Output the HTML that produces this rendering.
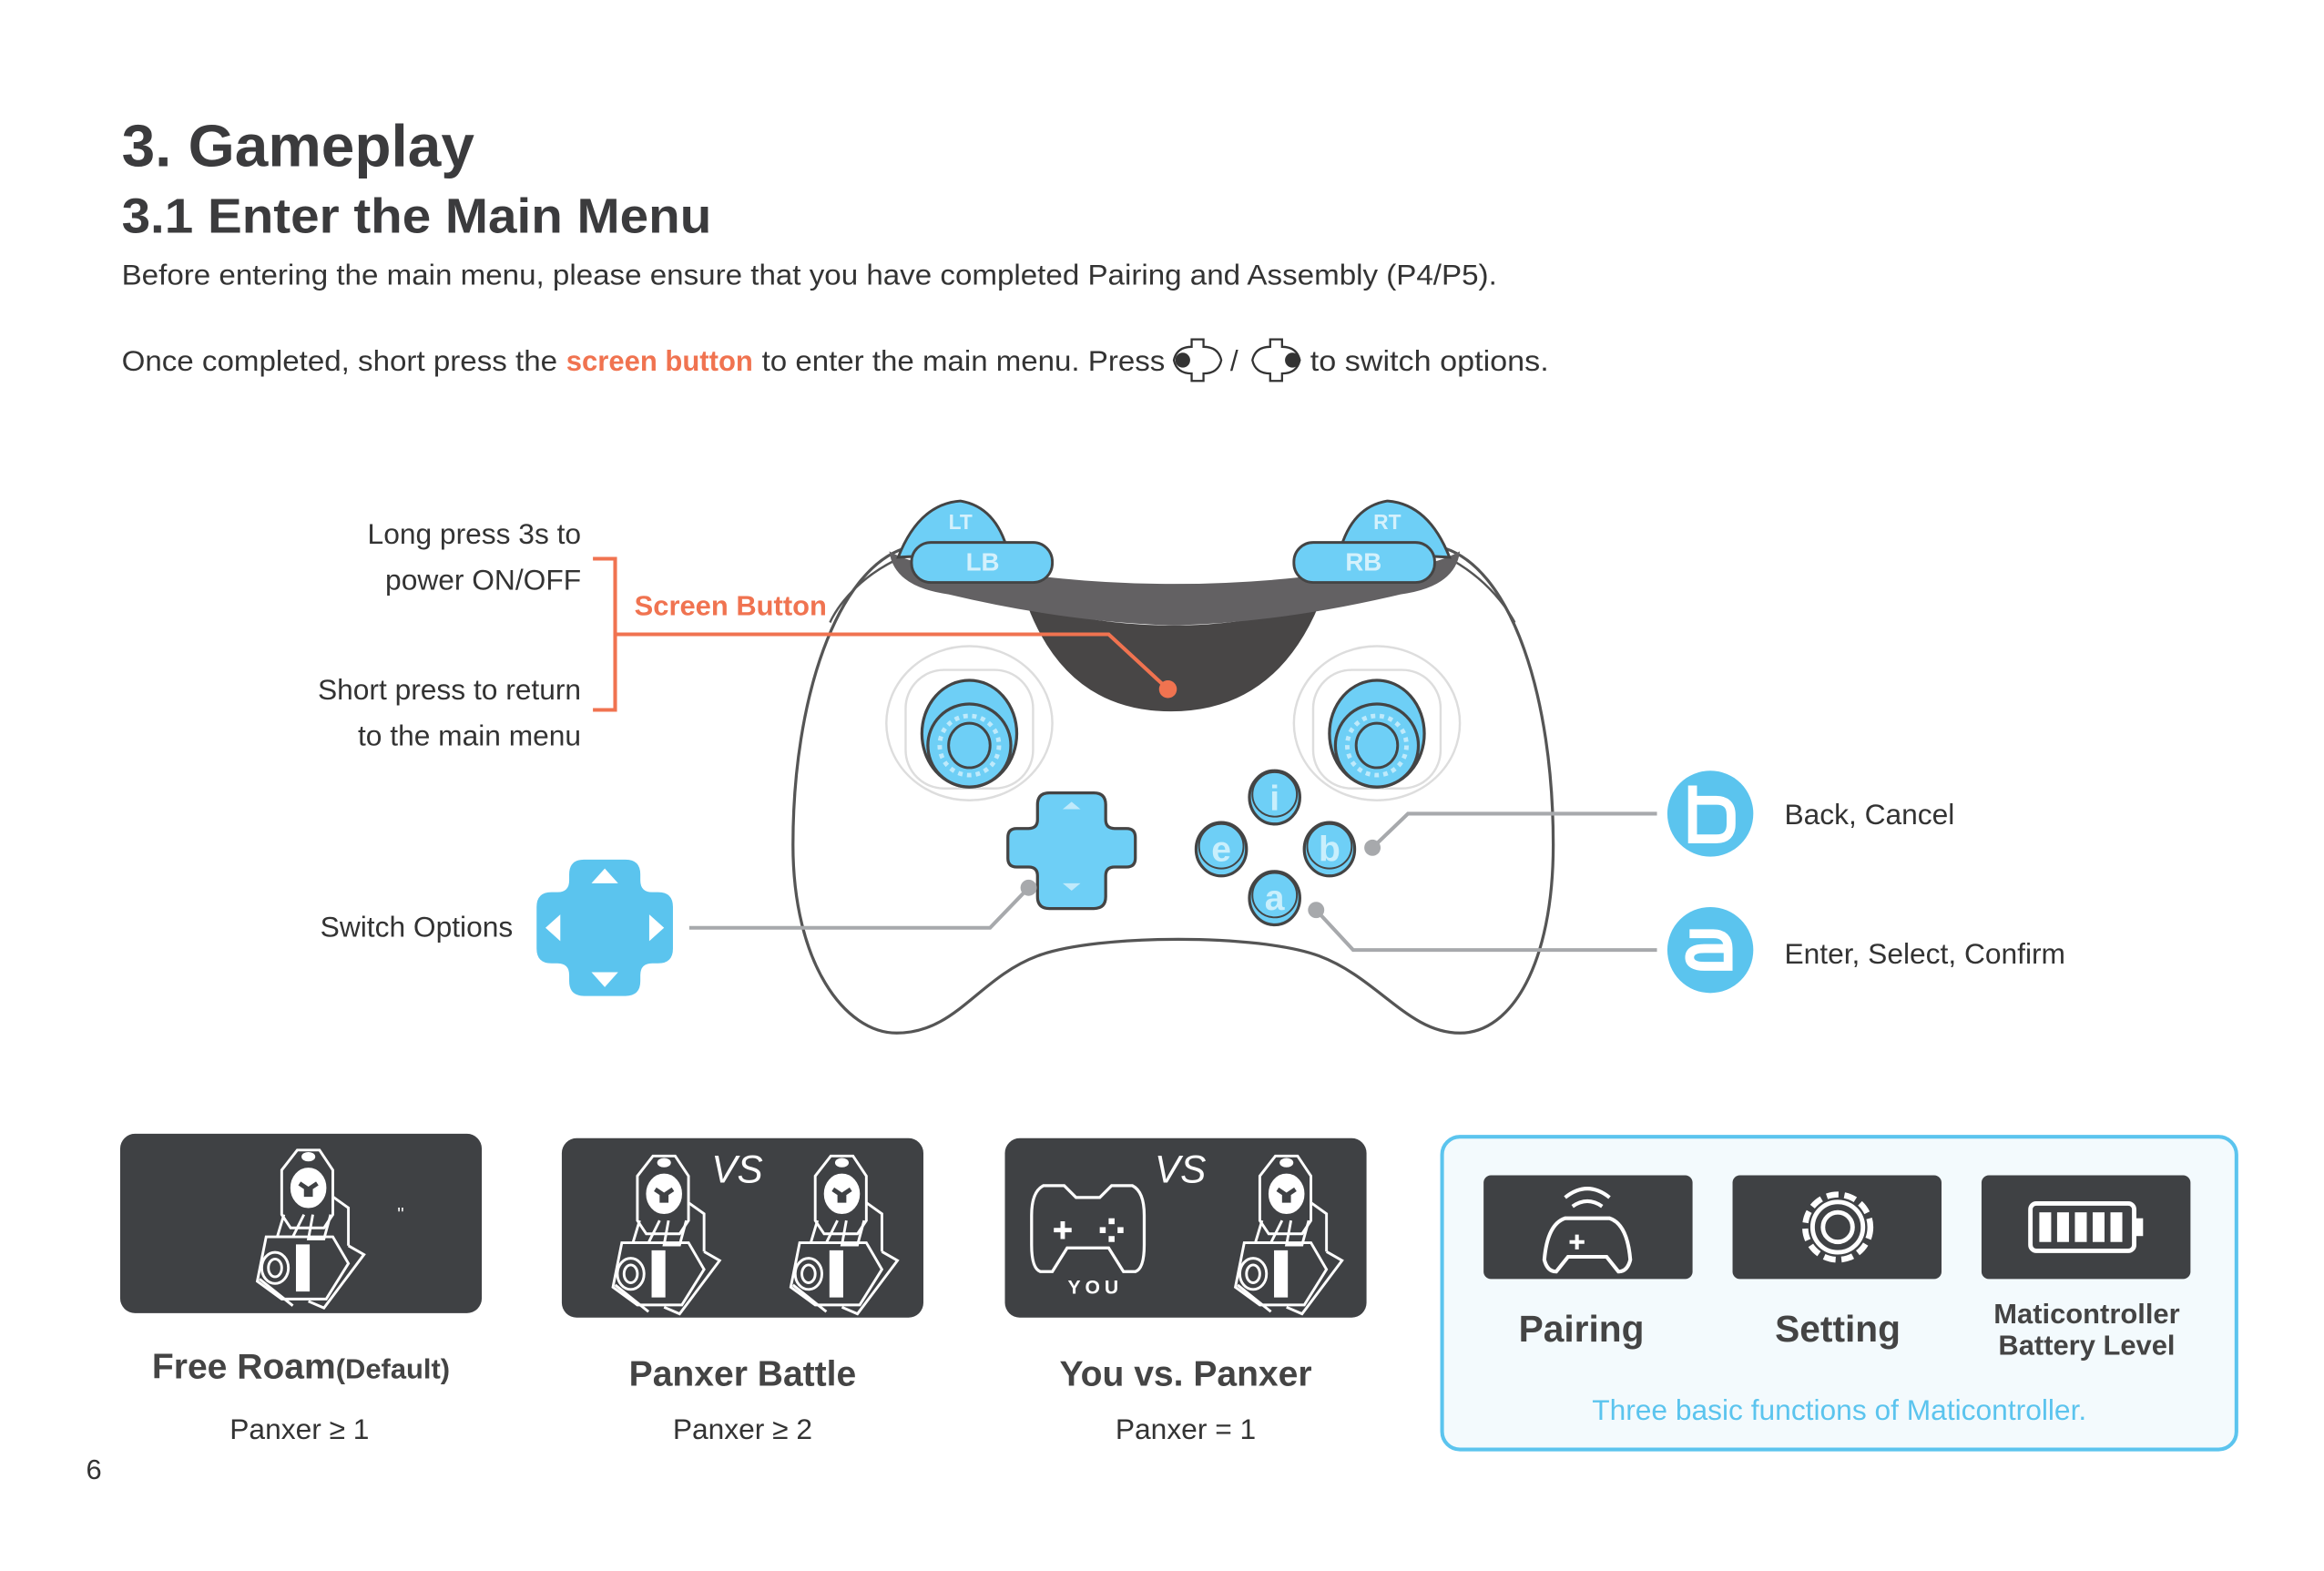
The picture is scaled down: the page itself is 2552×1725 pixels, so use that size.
<!DOCTYPE html>
<html><head><meta charset="utf-8"><style>
html,body{margin:0;padding:0;background:#fff;}
svg{display:block;}
text{font-family:"Liberation Sans",sans-serif;}
</style></head><body>
<svg width="2552" height="1725" viewBox="0 0 1568 1060" xmlns="http://www.w3.org/2000/svg">
<defs>
<g id="robot" fill="none" stroke="#fff" stroke-width="2.4">
  <path d="M-10,-56 h20 l12,18 v40 l-8,12 h-30 l-8,-12 v-40 z"/>
  <ellipse cx="0" cy="-50" rx="5" ry="3" fill="#fff"/>
  <ellipse cx="0" cy="-22" rx="15" ry="17" fill="#fff"/>
  <path d="M-8,-26 l6,4 v8 M8,-26 l-6,4 v8" stroke="#3f4144" stroke-width="4"/>
  <path d="M-22,2 l-6,20 h14 l10,-20 M4,2 l-4,22 h14 l6,-22 M22,-14 l14,10 v34"/>
  <path d="M-38,22 h60 l14,24 l-20,32 h-40 l-22,-16 z"/>
  <ellipse cx="-30" cy="50" rx="12" ry="14"/>
  <ellipse cx="-30" cy="50" rx="6" ry="8"/>
  <path d="M-10,30 v40 h10 v-40 z" fill="#fff"/>
  <path d="M36,30 l14,8 l-36,48 l-14,-6 M-44,60 l30,24"/>
</g>
<g id="btn">
  <ellipse cx="0" cy="2" rx="17" ry="18" fill="#6ecff6" stroke="#444" stroke-width="2"/>
  <ellipse cx="0" cy="0" rx="15" ry="15" fill="#6ecff6" stroke="#444" stroke-width="1.2"/>
</g>
</defs>

<!-- Header -->
<text x="82" y="112" font-size="40" font-weight="bold" fill="#3b3b3d" textLength="238" lengthAdjust="spacingAndGlyphs">3. Gameplay</text>
<text x="82" y="157" font-size="33" font-weight="bold" fill="#3b3b3d" textLength="398" lengthAdjust="spacingAndGlyphs">3.1 Enter the Main Menu</text>
<text x="82" y="192" font-size="19.5" fill="#333" textLength="928" lengthAdjust="spacingAndGlyphs">Before entering the main menu, please ensure that you have completed Pairing and Assembly (P4/P5).</text>
<text x="82" y="250" font-size="19.5" fill="#333" textLength="294" lengthAdjust="spacingAndGlyphs">Once completed, short press the</text>
<text x="382" y="250" font-size="19.5" font-weight="bold" fill="#f07350" textLength="126" lengthAdjust="spacingAndGlyphs">screen button</text>
<text x="514" y="250" font-size="19.5" fill="#333" textLength="272" lengthAdjust="spacingAndGlyphs">to enter the main menu. Press</text>
<g fill="none" stroke="#333" stroke-width="1.4">
  <path d="M804,229 h8 v5 q10,0 12,9 q-2,9 -12,9 v5 h-8 v-5 q-10,0 -12,-9 q2,-9 12,-9 z"/>
  <path d="M857,229 h8 v5 q10,0 12,9 q-2,9 -12,9 v5 h-8 v-5 q-10,0 -12,-9 q2,-9 12,-9 z"/>
</g>
<circle cx="798" cy="243" r="5" fill="#333"/>
<circle cx="872" cy="243" r="5" fill="#333"/>
<text x="830" y="250" font-size="19.5" fill="#333">/</text>
<text x="884" y="250" font-size="19.5" fill="#333" textLength="161" lengthAdjust="spacingAndGlyphs">to switch options.</text>

<!-- Left labels -->
<g font-size="19.5" fill="#333" text-anchor="end">
<text x="392" y="367">Long press 3s to</text>
<text x="392" y="398">power ON/OFF</text>
<text x="392" y="472">Short press to return</text>
<text x="392" y="503">to the main menu</text>
<text x="346" y="632">Switch Options</text>
</g>
<path d="M400,377 h15 v102 h-15" fill="none" stroke="#f07350" stroke-width="2.5"/>
<text x="428" y="415" font-size="19" font-weight="bold" fill="#f07350">Screen Button</text>

<!-- Controller body -->
<path d="M610,370 C565,385 535,470 535,570 C535,650 570,697 605,697 C645,697 660,660 700,645 C740,630 850,630 890,645 C930,660 950,697 985,697 C1020,697 1048,650 1048,570 C1048,470 1020,385 975,370" fill="#fff" stroke="#555" stroke-width="2"/>
<path d="M604,378 C570,395 560,420 560,420 M980,378 C1010,395 1022,420 1022,420" fill="none" stroke="#555" stroke-width="1.5"/>
<path d="M693,408 Q720,480 790,480 Q860,480 890,408 Q840,422 792,422 Q740,422 693,408 Z" fill="#484646"/>
<path d="M600,372 Q603,396 640,401 Q720,420 792,422 Q865,420 945,401 Q982,396 985,372 Q960,386 905,386 Q850,394 792,394 Q735,394 680,386 Q625,386 600,372 Z" fill="#636163"/>
<path d="M606,376 Q620,340 648,338 Q672,342 680,372 Z" fill="#6ecff6" stroke="#444" stroke-width="1.8"/>
<path d="M978,376 Q964,340 936,338 Q912,342 904,372 Z" fill="#6ecff6" stroke="#444" stroke-width="1.8"/>
<text x="648" y="357" font-size="14" font-weight="bold" fill="#d4f1fc" text-anchor="middle">LT</text>
<text x="936" y="357" font-size="14" font-weight="bold" fill="#d4f1fc" text-anchor="middle">RT</text>
<rect x="615" y="366" width="95" height="27" rx="13" fill="#6ecff6" stroke="#444" stroke-width="1.8"/>
<rect x="873" y="366" width="95" height="27" rx="13" fill="#6ecff6" stroke="#444" stroke-width="1.8"/>
<text x="663" y="385" font-size="17" font-weight="bold" fill="#d4f1fc" text-anchor="middle">LB</text>
<text x="920" y="385" font-size="17" font-weight="bold" fill="#d4f1fc" text-anchor="middle">RB</text>
<path d="M415,428 H748 L788,465" fill="none" stroke="#f07350" stroke-width="2.5"/>
<circle cx="788" cy="465" r="6" fill="#f07350"/>

<g id="stk">
<ellipse cx="654" cy="488" rx="56" ry="52" fill="none" stroke="#ddd" stroke-width="1.5"/>
<rect x="611" y="452" width="86" height="80" rx="26" fill="none" stroke="#ddd" stroke-width="1.5"/>
<ellipse cx="654" cy="495" rx="32" ry="36" fill="#6ecff6" stroke="#444" stroke-width="2"/>
<ellipse cx="654" cy="503" rx="28" ry="28" fill="#6ecff6" stroke="#444" stroke-width="2"/>
<circle cx="654" cy="503" r="20" fill="none" stroke="#bfeafb" stroke-width="3" stroke-dasharray="3 3"/>
<ellipse cx="654" cy="503" rx="14" ry="15" fill="#6ecff6" stroke="#444" stroke-width="1.8"/>
</g>
<use href="#stk" x="275" y="0"/>

<path d="M708,533 h30 q8,0 8,8 v10 q0,6 6,6 h8 q6,0 6,6 v14 q0,6 -6,6 h-8 q-6,0 -6,6 v14 q0,8 -8,8 h-30 q-8,0 -8,-8 v-14 q0,-6 -6,-6 h-8 q-6,0 -6,-6 v-14 q0,-6 6,-6 h8 q6,0 6,-6 v-10 q0,-8 8,-8 z" fill="#6ecff6" stroke="#444" stroke-width="2" transform="translate(0,2)"/>
<g fill="#bfeafb"><path d="M717,546 h12 l-6,-5 z"/><path d="M717,596 h12 l-6,5 z"/></g>

<use href="#btn" x="860" y="536"/>
<use href="#btn" x="824" y="571"/>
<use href="#btn" x="897" y="571"/>
<use href="#btn" x="860" y="604"/>
<g font-size="24" font-weight="bold" fill="#c9effc" text-anchor="middle">
<text x="860" y="547">i</text><text x="824" y="581">e</text><text x="897" y="581">b</text><text x="860" y="614">a</text>
</g>

<g fill="none" stroke="#a7a9ac" stroke-width="2.5">
<path d="M694,599 L668,626 H465"/>
<path d="M926,572 L950,549 H1118"/>
<path d="M888,614 L913,641 H1118"/>
</g>
<g fill="#a7a9ac"><circle cx="694" cy="599" r="5.5"/><circle cx="926" cy="572" r="5.5"/><circle cx="888" cy="614" r="5.5"/></g>

<circle cx="1154" cy="549" r="29" fill="#5bc4ee"/>
<circle cx="1154" cy="641" r="29" fill="#5bc4ee"/>
<path d="M1142,530 v36 h16 q10,0 10,-10 v-6 q0,-10 -10,-10 h-16" fill="none" stroke="#fff" stroke-width="6"/>
<path d="M1140,630 h16 q10,0 10,10 v12 h-16 q-10,0 -10,-6 q0,-6 10,-6 h16" fill="none" stroke="#fff" stroke-width="6"/>
<text x="1204" y="556" font-size="19.5" fill="#333">Back, Cancel</text>
<text x="1204" y="650" font-size="19.5" fill="#333">Enter, Select, Confirm</text>

<path d="M394,580 h28 q10,0 10,10 v4 q0,8 8,8 h4 q10,0 10,10 v28 q0,10 -10,10 h-4 q-8,0 -8,8 v4 q0,10 -10,10 h-28 q-10,0 -10,-10 v-4 q0,-8 -8,-8 h-4 q-10,0 -10,-10 v-28 q0,-10 10,-10 h4 q8,0 8,-8 v-4 q0,-10 10,-10 z" fill="#5bc4ee"/>
<g fill="#fff"><path d="M399,596 h18 l-9,-10 z"/><path d="M399,656 h18 l-9,10 z"/><path d="M378,617 v18 l-10,-9 z"/><path d="M438,617 v18 l10,-9 z"/></g>

<!-- cards -->
<rect x="81" y="765" width="244" height="121" rx="10" fill="#3f4144"/>
<rect x="379" y="768" width="244" height="121" rx="10" fill="#3f4144"/>
<rect x="678" y="768" width="244" height="121" rx="10" fill="#3f4144"/>
<g transform="translate(208,818) scale(0.75)"><use href="#robot"/></g>
<text x="268" y="823" font-size="12" fill="#fff">''</text>
<g transform="translate(448,822) scale(0.75)"><use href="#robot"/></g>
<g transform="translate(568,822) scale(0.75)"><use href="#robot"/></g>
<g transform="translate(868,822) scale(0.75)"><use href="#robot"/></g>
<text x="480" y="798" font-size="26" font-style="italic" fill="#fff" font-family="Liberation Serif">VS</text>
<text x="779" y="798" font-size="26" font-style="italic" fill="#fff" font-family="Liberation Serif">VS</text>
<path d="M704,800 q-8,4 -8,20 v20 q0,16 6,18 h8 l10,-16 h28 l10,16 h8 q6,-2 6,-18 v-20 q0,-16 -8,-20 h-14 l-8,8 h-16 l-8,-8 z" fill="none" stroke="#fff" stroke-width="2"/>
<path d="M711,830 h12 M717,824 v12" stroke="#fff" stroke-width="3"/>
<g fill="#fff"><rect x="748" y="822" width="4" height="4"/><rect x="748" y="834" width="4" height="4"/><rect x="742" y="828" width="4" height="4"/><rect x="754" y="828" width="4" height="4"/></g>
<text x="739" y="873" font-size="13" font-weight="bold" fill="#fff" text-anchor="middle" letter-spacing="3">YOU</text>

<text x="203" y="930" font-size="24" font-weight="bold" fill="#444" text-anchor="middle">Free Roam<tspan font-size="19">(Default)</tspan></text>
<text x="501" y="935" font-size="24" font-weight="bold" fill="#444" text-anchor="middle">Panxer Battle</text>
<text x="800" y="935" font-size="24" font-weight="bold" fill="#444" text-anchor="middle">You vs. Panxer</text>
<g font-size="19.5" fill="#333" text-anchor="middle">
<text x="202" y="971">Panxer ≥ 1</text>
<text x="501" y="971">Panxer ≥ 2</text>
<text x="800" y="971">Panxer = 1</text>
</g>
<text x="58" y="998" font-size="19" fill="#333">6</text>

<rect x="973" y="767" width="536" height="211" rx="12" fill="#f3fafd" stroke="#5bc4ee" stroke-width="2.5"/>
<rect x="1001" y="793" width="141" height="70" rx="5" fill="#3f4144"/>
<rect x="1169" y="793" width="141" height="70" rx="5" fill="#3f4144"/>
<rect x="1337" y="793" width="141" height="70" rx="5" fill="#3f4144"/>
<g fill="none" stroke="#fff" stroke-width="2.5">
<path d="M1056,808 q15,-12 30,0 M1061,814 q10,-7 20,0"/>
<path d="M1056,822 h30 q12,4 14,28 q-2,8 -8,8 l-8,-10 h-26 l-8,10 q-6,0 -8,-8 q2,-24 14,-28 z"/>
<path d="M1059,838 h10 M1064,833 v10"/>
<circle cx="1240" cy="828" r="22" stroke-width="4" stroke-dasharray="8 4"/>
<circle cx="1240" cy="828" r="17" stroke-width="3"/>
<circle cx="1240" cy="828" r="10" stroke-width="3"/>
<rect x="1370" y="812" width="70" height="32" rx="4" stroke-width="3"/>
</g>
<rect x="1440" y="822" width="6" height="12" fill="#fff"/>
<g fill="#fff"><rect x="1376" y="818" width="8" height="20"/><rect x="1388" y="818" width="8" height="20"/><rect x="1400" y="818" width="8" height="20"/><rect x="1412" y="818" width="8" height="20"/><rect x="1424" y="818" width="8" height="20"/></g>
<g font-weight="bold" fill="#444" text-anchor="middle">
<text x="1067" y="905" font-size="25">Pairing</text>
<text x="1240" y="905" font-size="25">Setting</text>
<text x="1408" y="893" font-size="19">Maticontroller</text>
<text x="1408" y="914" font-size="19">Battery Level</text>
</g>
<text x="1241" y="958" font-size="19.5" fill="#5bc4ee" text-anchor="middle">Three basic functions of Maticontroller.</text>
</svg>
</body></html>
